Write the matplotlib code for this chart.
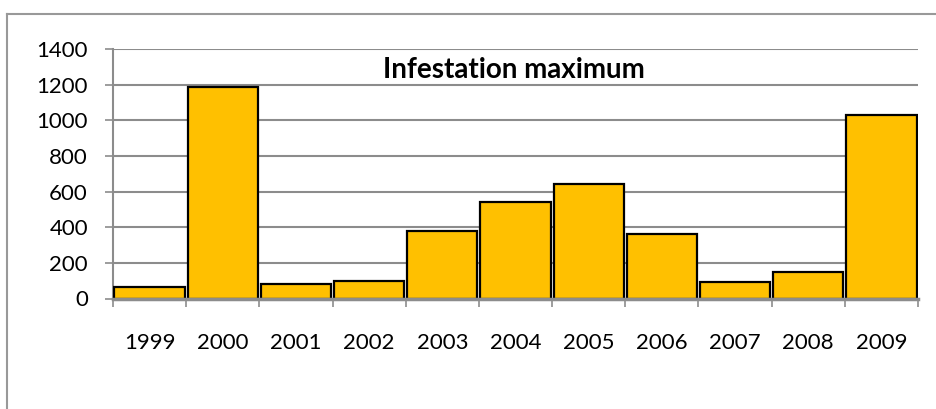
import matplotlib
matplotlib.use("Agg")
import matplotlib.pyplot as plt
from matplotlib.lines import Line2D

years = ["1999", "2000", "2001", "2002", "2003", "2004", "2005", "2006", "2007", "2008", "2009"]
values = [63, 1189, 84, 97, 377, 543, 644, 364, 93, 149, 1030]
title = "Infestation maximum"
yticks = [0, 200, 400, 600, 800, 1000, 1200, 1400]

plt.rcParams['font.family'] = ['Lato', 'DejaVu Sans']

W, H = 936, 409
fig = plt.figure(figsize=(W/100, H/100), dpi=100)
ax = fig.add_axes([113/W, 1-298.5/H, (918-113)/W, (298.5-49)/H])

x = list(range(len(years)))
ax.bar(x, values, width=0.96, color="#FFC000", edgecolor="black", linewidth=1.6, zorder=3)
ax.set_xlim(-0.5, len(years)-0.5)
ax.set_ylim(0, 1400)
ax.set_yticks(yticks)
ax.set_yticklabels([str(v) for v in yticks], fontsize=16)
ax.yaxis.grid(True, color="#8c8c8c", linewidth=1.5, zorder=0)
ax.set_axisbelow(True)

ax.set_xticks([i - 0.5 for i in range(len(years)+1)], minor=False)
ax.set_xticklabels([])
ax.set_xticks(x, minor=True)
ax.set_xticklabels(years, minor=True, fontsize=16)
ax.tick_params(axis='x', which='minor', length=0, pad=25)
ax.tick_params(axis='x', which='major', length=6, color="#8c8c8c", width=1.2, direction='out')
ax.tick_params(axis='y', length=6, color="#8c8c8c", width=1.2, pad=12)

for s in ['top', 'right']:
    ax.spines[s].set_visible(False)
ax.spines['left'].set_color("#8c8c8c")
ax.spines['left'].set_linewidth(1.5)
ax.spines['bottom'].set_color("#8c8c8c")
ax.spines['bottom'].set_linewidth(2.5)
ax.spines['bottom'].set_zorder(4)

ax.text(514/W, 1-70/H, title, transform=fig.transFigure, ha='center', va='center',
        fontsize=20, fontweight='bold')

fig.add_artist(Line2D([7/W, 1], [1-14/H, 1-14/H], transform=fig.transFigure, color="#999999", linewidth=1.5))
fig.add_artist(Line2D([7/W, 7/W], [0, 1-14/H], transform=fig.transFigure, color="#999999", linewidth=1.5))

fig.savefig("out.png", dpi=100)
